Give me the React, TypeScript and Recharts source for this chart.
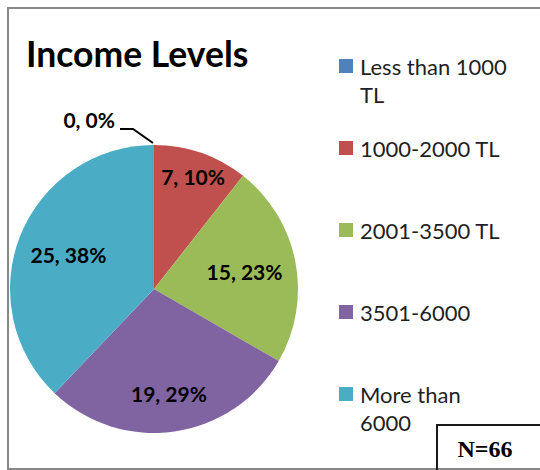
import React from 'react';
import { PieChart, Pie, Cell, Legend } from 'recharts';

const categories = ['Less than 1000 TL', '1000-2000 TL', '2001-3500 TL', '3501-6000', 'More than 6000'];
const counts = [0, 7, 15, 19, 25];
const percentLabels = [0, 10, 23, 29, 38];
const sampleSize = 66;
const titleText = 'Income Levels';
const colors = ['#4F81BD', '#C0504D', '#9BBB59', '#8064A2', '#4BACC6'];

const data = categories.map((name, i) => ({ name, value: counts[i], pct: percentLabels[i] }));

const RAD = Math.PI / 180;
const labelRadiusFactor = [1, 0.83, 0.64, 0.73, 0.64];
const LABEL_FONT = 'Lato, "Open Sans", sans-serif';

const renderLabel = (props: any) => {
  const { cx, cy, midAngle, outerRadius, index, value } = props;
  const text = `${value}, ${percentLabels[index]}%`;
  if (index === 0) {
    const px = cx + outerRadius * Math.cos(-midAngle * RAD);
    const py = cy + outerRadius * Math.sin(-midAngle * RAD);
    const pts = `${px - 34},${py - 16} ${px - 21},${py - 16} ${px - 1},${py - 2}`;
    return (
      <g key="lbl0">
        <polyline points={pts} fill="none" stroke="#000" strokeWidth={2} />
        <text x={px - 39} y={py - 17} textAnchor="end" fontFamily={LABEL_FONT} fontWeight={700} fontSize={21} fill="#000">
          {text}
        </text>
      </g>
    );
  }
  const r = outerRadius * labelRadiusFactor[index];
  const x = cx + r * Math.cos(-midAngle * RAD);
  const y = cy + r * Math.sin(-midAngle * RAD);
  return (
    <text key={`lbl${index}`} x={x} y={y} textAnchor="middle" dominantBaseline="central" fontFamily={LABEL_FONT} fontWeight={700} fontSize={21} fill="#000">
      {text}
    </text>
  );
};

const renderLegend = (props: any) => {
  const payload = [...(props.payload || [])].sort(
    (a: any, b: any) => categories.indexOf(a.value) - categories.indexOf(b.value)
  );
  return (
    <div style={{ position: 'relative', width: 190, height: 400 }}>
      {payload.map((entry: any, i: number) => (
        <div key={i} style={{ position: 'absolute', left: 0, top: i * 82, width: 190 }}>
          <div style={{ position: 'absolute', left: 0, top: 6, width: 14, height: 14, background: colors[categories.indexOf(entry.value)] }} />
          <div style={{ position: 'absolute', left: 21, top: 0, width: 152, fontFamily: 'Lato, sans-serif', fontSize: 22, lineHeight: '28px', color: '#1f1f1f', textAlign: 'left' }}>
            {entry.value}
          </div>
        </div>
      ))}
    </div>
  );
};

export default function App() {
  return (
    <div style={{ position: 'fixed', left: 0, top: 0, width: 540, height: 470, overflow: 'hidden', background: '#fff' }}>
      <div style={{ position: 'absolute', left: 0, top: 0, width: 540, height: 470 }}>
        <PieChart width={540} height={470} margin={{ top: 0, right: 0, bottom: 0, left: 0 }}>
          <Pie
            data={data}
            dataKey="value"
            nameKey="name"
            cx={154}
            cy={289}
            outerRadius={144}
            startAngle={90}
            endAngle={-270}
            stroke="none"
            label={renderLabel}
            labelLine={false}
            isAnimationActive={false}
          >
            {data.map((d, i) => (
              <Cell key={d.name} fill={colors[i]} />
            ))}
          </Pie>
          <Legend
            content={renderLegend}
            wrapperStyle={{ position: 'absolute', left: 339, top: 53, width: 190, height: 400 }}
          />
        </PieChart>
      </div>
      <svg width={540} height={470} style={{ position: 'absolute', left: 0, top: 0, pointerEvents: 'none' }}>
        <path d="M 560 469 H 8 V 8 H 560" fill="none" stroke="#888" strokeWidth={2} />
        <text x={26} y={67} fontFamily="Lato, sans-serif" fontWeight={700} fontSize={35.5} fill="#000">
          {titleText}
        </text>
        <path d="M 437 472 V 425 H 560" fill="none" stroke="#1a1a1a" strokeWidth={2} />
        <text x={485} y={457} textAnchor="middle" fontFamily='"Liberation Serif", "Times New Roman", serif' fontWeight={700} fontSize={24} fill="#000">
          {`N=${sampleSize}`}
        </text>
      </svg>
    </div>
  );
}
